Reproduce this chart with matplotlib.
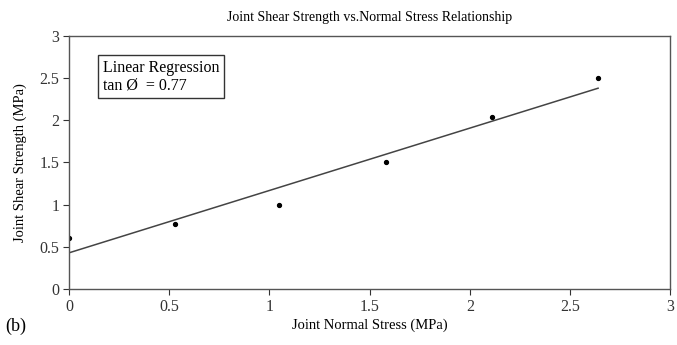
import matplotlib
matplotlib.use("Agg")
import matplotlib.pyplot as plt

plt.rcParams['font.family'] = ['Liberation Serif', 'DejaVu Serif']

# measured points
normal_stress = [0.0, 0.53, 1.05, 1.58, 2.11, 2.64]
shear_strength = [0.60, 0.77, 1.00, 1.50, 2.04, 2.50]

# regression line end points
fit_x = [0.0, 2.64]
fit_y = [0.43, 2.38]

ticks = [0, 0.5, 1, 1.5, 2, 2.5, 3]
tick_labels = ['0', '0.5', '1', '1.5', '2', '2.5', '3']

fig = plt.figure(figsize=(6.77, 3.45), dpi=100)
ax = fig.add_axes([0.102, 0.162, 0.888, 0.734])

ax.plot(fit_x, fit_y, color='#444444', lw=1.1)
ax.plot(normal_stress, shear_strength, 'o', color='black', markersize=2.8)

ax.set_xlim(0, 3)
ax.set_ylim(0, 3)
ax.set_xticks(ticks)
ax.set_xticklabels(tick_labels)
ax.set_yticks(ticks)
ax.set_yticklabels(tick_labels)
ax.tick_params(direction='out', length=4, width=0.8, labelsize=11.5, colors='#333333', pad=3)
for s in ax.spines.values():
    s.set_color('#555555')
    s.set_linewidth(1.0)

ax.set_title('Joint Shear Strength vs.Normal Stress Relationship', fontsize=10, pad=11)
ax.set_xlabel('Joint Normal Stress (MPa)', fontsize=10.5, labelpad=3)
ax.set_ylabel('Joint Shear Strength (MPa)', fontsize=10.5, labelpad=9)

ax.text(0.056, 0.905, 'Linear Regression\ntan \u00d8  = 0.77', transform=ax.transAxes,
        fontsize=11.5, va='top', ha='left', linespacing=1.1,
        bbox=dict(boxstyle='square,pad=0.3', fc='white', ec='#333333', lw=1.0))

fig.text(0.008, 0.03, '(b)', fontsize=13, ha='left', va='bottom')

fig.savefig('out.png', dpi=100)
